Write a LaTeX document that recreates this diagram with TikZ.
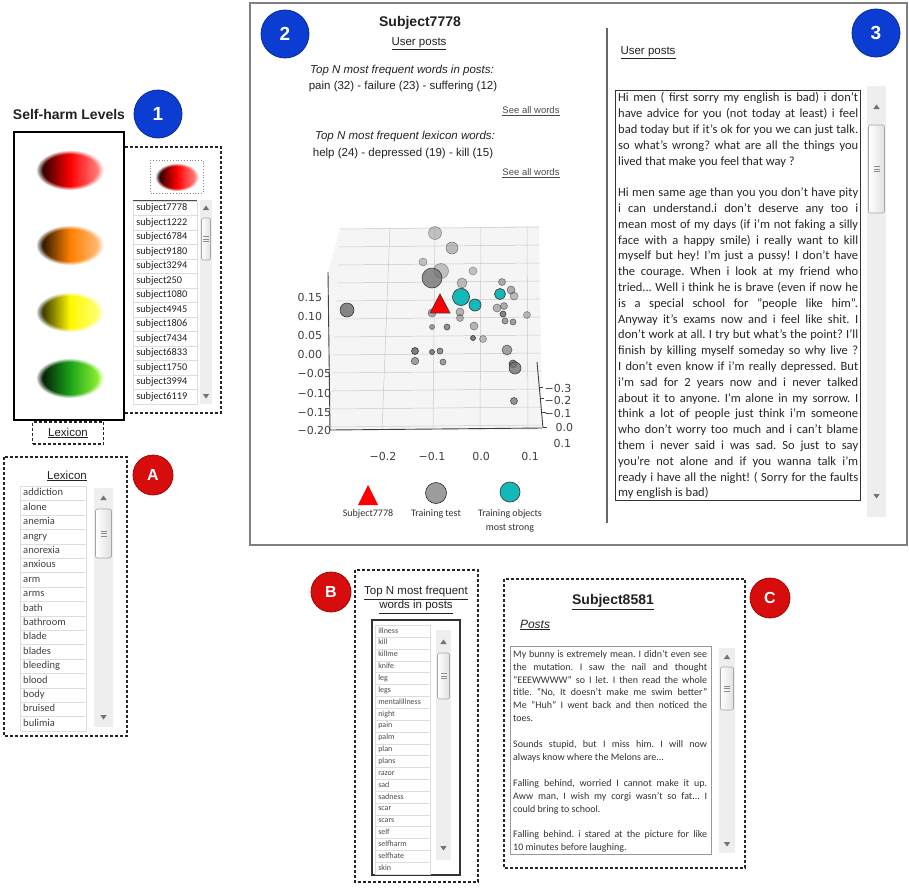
\documentclass[tikz,border=0pt]{standalone}
\usepackage{fontspec}
\setmainfont{Carlito}
\setsansfont{Liberation Sans}
\newfontfamily\plotfont{DejaVu Sans}
\usetikzlibrary{fadings}
\hbadness=10000
\hyphenpenalty=10000
\exhyphenpenalty=10000
\frenchspacing
\definecolor{ink}{HTML}{222222}
\definecolor{frame}{HTML}{808080}
\definecolor{badgeblue}{HTML}{0B3DD3}
\definecolor{badgered}{HTML}{D70C0C}
\definecolor{trough}{HTML}{EEEEEE}
\definecolor{rowline}{HTML}{DDDDDD}
\definecolor{strongcyan}{HTML}{13B8B8}
\definecolor{pane}{HTML}{F5F5F5}
\definecolor{gridgray}{HTML}{C8C8C8}

% scroll bar: left, right, top, bottom, thumb top, thumb bottom, arrow offset
\newcommand{\uiscroll}[7]{%
  \fill[trough] (#1,#3) rectangle (#2,#4);
  \draw[thumbbar] ({#1+1.5},#5) rectangle ({#2-1.5},#6);
  \foreach \g in {-2.4,0,2.4}
    \draw[black!45, line width=0.6pt] ({(#1+#2)/2-3},{(#5+#6)/2+\g}) -- ({(#1+#2)/2+3},{(#5+#6)/2+\g});
  \fill[black!55] ({(#1+#2)/2},{#3+#7-2.5}) -- ({(#1+#2)/2+3.2},{#3+#7+2}) -- ({(#1+#2)/2-3.2},{#3+#7+2}) -- cycle;
  \fill[black!55] ({(#1+#2)/2},{#4-#7+2.5}) -- ({(#1+#2)/2+3.2},{#4-#7-2}) -- ({(#1+#2)/2-3.2},{#4-#7-2}) -- cycle;
}

\begin{document}
\begin{tikzpicture}[
  x=1pt, y=-1pt,
  font=\sffamily,
  text=ink,
  badge/.style={circle, minimum size=48pt, inner sep=0pt, fill=badgeblue,
    draw=badgeblue!70!black, line width=0.8pt, text=white,
    font=\sffamily\bfseries\fontsize{19}{19}\selectfont},
  rbadge/.style={badge, minimum size=40pt, fill=badgered, draw=badgered!75!black,
    font=\sffamily\bfseries\fontsize{16}{16}\selectfont},
  dashbox/.style={draw=black!85, line width=1.2pt, dash pattern=on 3pt off 2pt},
  heading/.style={font=\sffamily\bfseries\fontsize{14}{16}\selectfont},
  uitext/.style={font=\sffamily\fontsize{11.5}{14}\selectfont},
  smalllink/.style={font=\sffamily\fontsize{9.5}{11}\selectfont, text=black!70},
  listrow/.style={draw=rowline, line width=0.5pt, fill=white, anchor=north west,
    align=left, inner xsep=3pt, inner ysep=0pt},
  subjrow/.style={listrow, text width=58pt, minimum height=14.5pt, text height=7pt,
    text depth=2pt, font=\rmfamily\fontsize{10.3}{11}\selectfont},
  lexrow/.style={listrow, text width=60pt, minimum height=14.4pt, text height=7pt,
    text depth=2pt, font=\rmfamily\fontsize{10.5}{11}\selectfont, text=black!75},
  wordrow/.style={listrow, text width=49pt, minimum height=11.85pt, text height=5.5pt,
    text depth=1.6pt, font=\rmfamily\fontsize{8}{9}\selectfont, text=black!70},
  thumbbar/.style={draw=black!35, line width=0.6pt, rounded corners=2pt,
    left color=white, right color=black!12},
  gridline/.style={draw=gridgray, line width=0.5pt},
  gpt/.style={fill=black!55, draw=black!85, line width=0.6pt},
  cpt/.style={fill=strongcyan, draw=black!75, line width=0.7pt},
  ticklabel/.style={font=\plotfont\fontsize{11}{12}\selectfont, text=black!75},
  legendtext/.style={font=\rmfamily\fontsize{10}{14.5}\selectfont, text=black!80, align=center},
  posttext/.style={align=justify, inner sep=0pt, anchor=north west, text=black!85},
  blob/.style={path fading=circle with fuzzy edge 20 percent}
]
\fill[white] (0,0) rectangle (909,889);
\useasboundingbox (0,0) rectangle (909,889);

% Self-harm levels and subject list
\node[heading] (levelstitle) at (69,114) {Self-harm Levels};
\node[badge] (one) at (158,114) {1};
\draw[black, line width=2.5pt] (14,132) rectangle (124,420);
\shade[blob, left color=black, right color=red!40!white, middle color=red] (70,170) ellipse [x radius=34, y radius=20];
\shade[blob, left color=black, right color=orange!45!white, middle color=orange] (70,245) ellipse [x radius=34, y radius=20];
\shade[blob, left color=black!90!olive, right color=yellow!45!white, middle color=yellow!95!orange] (70,312) ellipse [x radius=34, y radius=20];
\shade[blob, left color=black, right color=green!45!yellow!80!white, middle color=green!60!black!90] (70,378) ellipse [x radius=34, y radius=20];

\draw[dashbox] (125,147) -- (221,147) -- (221,413) -- (125,413);
\draw[black!45, dotted, line width=0.8pt] (150,160) rectangle (203,193);
\shade[blob, left color=black, right color=red!40!white, middle color=red] (177,177) ellipse [x radius=22, y radius=14];
\foreach \name [count=\i from 0] in {subject7778,subject1222,subject6784,subject9180,subject3294,subject250,subject1080,subject4945,subject1806,subject7434,subject6833,subject1750,subject3994,subject6119}
  \node[subjrow] (subj\i) at (133,{200.5+14.5*\i}) {\name};
\draw[black!70, line width=1pt] (133,200) -- (197,200);
\uiscroll{200}{212}{200}{404}{218}{260}{8}

\node[dashbox, minimum width=71pt, minimum height=22pt, uitext] (lexlink) at (68,433) {\underline{Lexicon}};

% Panel A: lexicon list
\draw[dashbox] (4,457) rectangle (127,736);
\node[uitext] (lextitle) at (67,476) {\underline{Lexicon}};
\foreach \name [count=\i from 0] in {addiction,alone,anemia,angry,anorexia,anxious,arm,arms,bath,bathroom,blade,blades,bleeding,blood,body,bruised,bulimia}
  \node[lexrow] (lex\i) at (20,{486+14.4*\i}) {\name};
\uiscroll{94}{113}{488}{727}{509}{558}{10}
\node[rbadge] (badgeA) at (153,475) {A};

% Subject view: summary, plot and posts
\draw[frame, line width=1.4pt] (250,3) rectangle (907,545);
\node[badge] (two) at (285,34) {2};
\node[heading] (subjtitle) at (420,23) {Subject7778};
\node[uitext] (postslink) at (419,44) {\underline{User posts}};
\node[uitext] (topwords) at (402,71) {\textit{Top N most frequent words in posts:}};
\node[uitext] (topwordsval) at (403,87) {pain (32) - failure (23) - suffering (12)};
\node[smalllink] (seewords) at (531,111) {\underline{See all words}};
\node[uitext] (toplex) at (405,137) {\textit{Top N most frequent lexicon words:}};
\node[uitext] (toplexval) at (403,154) {help (24) - depressed (19) - kill (15)};
\node[smalllink] (seelex) at (531,173) {\underline{See all words}};

% 3D scatter
\fill[pane] (340,229) -- (539,226) -- (542,430) -- (330,430) -- (328,272) -- cycle;
\foreach \gy in {0,...,11}
  \draw[gridline] ({340-0.9*\gy},{229+18*\gy}) -- ({539+0.25*\gy},{227+18*\gy});
\foreach \tx/\bx in {390/382,435/433,481/480,527/528}
  \draw[gridline] (\tx,227) -- (\bx,430);
\draw[black!75, line width=0.9pt] (328,272) -- (330,430) -- (542,428);
\draw[black!75, line width=0.9pt] (537,362) -- (543,428);
\foreach \dy in {387,398,412,427}
  \draw[black!75, line width=0.7pt] ({537+6*(\dy-362)/66},\dy) -- ++(4,0);
\foreach \lab/\ly in {0.15/297,0.10/316,0.05/335,0.00/354,−0.05/373,−0.10/393,−0.15/412,−0.20/430}
  \node[ticklabel, anchor=west] (z\ly) at (294,\ly) {\lab};
\foreach \lab/\lx in {−0.2/383,−0.1/432,0.0/481,0.1/530}
  \node[ticklabel] (x\lx) at (\lx,456) {\lab};
\foreach \lab/\ly/\lx in {−0.3/388/541,−0.2/400/541,−0.1/413/541,0.0/427/552,0.1/443/550}
  \node[ticklabel, anchor=west] (d\ly) at (\lx,\ly) {\lab};
\foreach \px/\py/\pr/\po in {435/233/6.5/0.4,452/248/6/0.45,423/262/4/0.4,441/271/7.5/0.4,
    432/278/10/0.8,473/271/4/0.4,462/283/5/0.45,502/282/3.5/0.55,511/290/4/0.55,514/296/4/0.45,
    462/292/4/0.55,347/310/7/0.85,432/313/4/0.55,460/312/4/0.5,460/318/3.5/0.5,497/308/4/0.5,
    504/306/3.5/0.55,503/314/3/0.85,505/321/3/0.65,513/322/3/0.65,527/315/3.5/0.45,432/327/2.5/0.65,
    447/327/3/0.75,474/326/4/0.5,473/338/2.5/0.9,483/339/3.5/0.45,507/350/5/0.65,415/351/3.5/0.9,
    432/352/2.5/0.85,440/351/3/0.75,415/361/3.8/0.65,443/362/3/0.65,513/364/4/0.85,515/368/6/0.8,
    514/401/3.5/0.75}
  \draw[gpt, fill opacity=\po, draw opacity=\po] (\px,\py) circle [radius=\pr];
\draw[cpt] (461,297) circle [radius=8.5];
\draw[cpt] (475,305) circle [radius=6];
\draw[cpt] (500,294) circle [radius=5.5];
\draw[fill=red, draw=black!75, line width=0.7pt] (440,294) -- (450,313) -- (430,313) -- cycle;

% legend
\fill[red] (368,485) -- (378,505) -- (358,505) -- cycle;
\draw[gpt, fill opacity=0.7] (436,493) circle [radius=10.5];
\draw[cpt] (510,492) circle [radius=10];
\node[legendtext] (legsubj) at (368,514) {Subject7778};
\node[legendtext] (legtest) at (436,514) {Training test};
\node[legendtext] (legstrong) at (510,521) {Training objects\\most strong};

% posts column
\draw[frame!80!black, line width=1.5pt] (607,28) -- (607,523);
\node[badge] (three) at (876,33) {3};
\node[uitext, anchor=west] (postshead) at (617,53) {\underline{User posts}};
\draw[black!80, line width=1pt] (615,90) rectangle (860,500);
\node[posttext, text width=240pt, font=\rmfamily\fontsize{12.5}{15.8}\selectfont] (posts) at (618,92.5) {Hi men ( first sorry my english is bad) i don't\linebreak
have advice for you (not today at least) i feel\linebreak
bad today but if it's ok for you we can just talk.\linebreak
so what's wrong? what are all the things you\linebreak
lived that make you feel that way ?\\[15.8pt]
Hi men same age than you you don't have pity\linebreak
i can understand.i don't deserve any too i\linebreak
mean most of my days (if i'm not faking a silly\linebreak
face with a happy smile) i really want to kill\linebreak
myself but hey! I'm just a pussy! I don't have\linebreak
the courage. When i look at my friend who\linebreak
tried... Well i think he is brave (even if now he\linebreak
is a special school for "people like him".\linebreak
Anyway it's exams now and i feel like shit. I\linebreak
don't work at all. I try but what's the point? I'll\linebreak
finish by killing myself someday so why live ?\linebreak
I don't even know if i'm really depressed. But\linebreak
i'm sad for 2 years now and i never talked\linebreak
about it to anyone. I'm alone in my sorrow. I\linebreak
think a lot of people just think i'm someone\linebreak
who don't worry too much and i can't blame\linebreak
them i never said i was sad. So just to say\linebreak
you're not alone and if you wanna talk i'm\linebreak
ready i have all the night! ( Sorry for the faults\linebreak
my english is bad)};
\uiscroll{867}{886}{86}{517}{125}{213}{21}

% Panel B: frequent words
\draw[dashbox] (355,570) rectangle (478,882);
\node[rbadge] (badgeB) at (331,592) {B};
\node[uitext, align=center] (freqtitle) at (416,600) {\underline{Top N most frequent}\\\underline{words in posts}};
\draw[black!80, line width=1.2pt] (372,620) rectangle (460,875);
\foreach \name [count=\i from 0] in {illness,kill,killme,knife,leg,legs,mentalillness,night,pain,palm,plan,plans,razor,sad,sadness,scar,scars,self,selfharm,selfhate,skin}
  \node[wordrow] (word\i) at (375,{625+11.85*\i}) {\name};
\uiscroll{436}{451}{630}{860}{653}{699}{12}

% Panel C: other subject posts
\draw[dashbox] (504,579) rectangle (745,868);
\node[rbadge] (badgeC) at (770,598) {C};
\node[heading] (othertitle) at (613,602) {\underline{Subject8581}};
\node[uitext, font=\sffamily\itshape\fontsize{12}{14}\selectfont] (otherposts) at (535,625) {\underline{Posts}};
\draw[black!40, line width=1pt] (510,646) rectangle (711,854);
\node[posttext, text width=194pt, font=\rmfamily\fontsize{10}{12.9}\selectfont, text=black!80] (otherpoststext) at (513,650) {My bunny is extremely mean. I didn't even see\linebreak
the mutation. I saw the nail and thought\linebreak
"EEEWWWW" so I let. I then read the whole\linebreak
title. "No, It doesn't make me swim better"\linebreak
Me "Huh" I went back and then noticed the\linebreak
toes.\\[12.9pt]
Sounds stupid, but I miss him. I will now\linebreak
always know where the Melons are...\\[12.9pt]
Falling behind, worried I cannot make it up.\linebreak
Aww man, I wish my corgi wasn't so fat... I\linebreak
could bring to school.\\[12.9pt]
Falling behind. i stared at the picture for like\linebreak
10 minutes before laughing.};
\uiscroll{719}{735}{648}{853}{667}{710}{9}

\end{tikzpicture}
\end{document}
